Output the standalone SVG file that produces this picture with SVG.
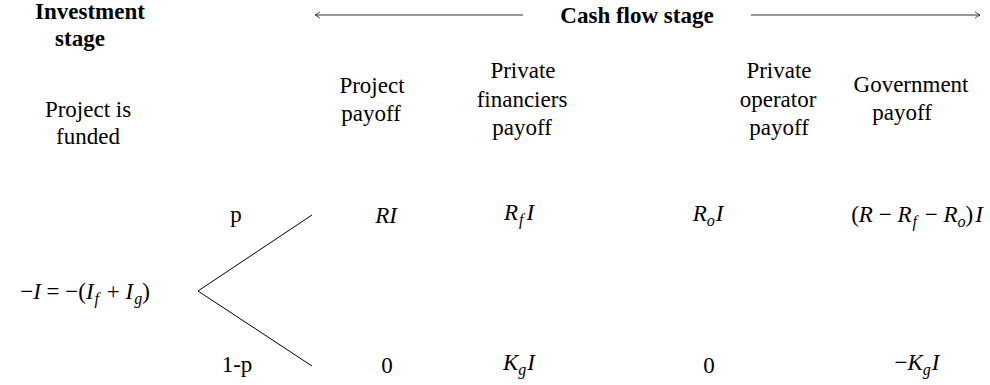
<svg xmlns="http://www.w3.org/2000/svg" width="990" height="385" viewBox="0 0 990 385">
<style>
text{font-family:"Liberation Serif","Times New Roman","DejaVu Serif",serif;font-size:23px;fill:#000;text-anchor:middle}
.b{font-weight:bold}
.i{font-style:italic}
.s{font-style:italic;font-size:16px}
.ln{stroke:#000;stroke-width:1;fill:none}
.ar{stroke:#333;stroke-width:1.1;fill:none}
</style>
<defs>
<marker id="ah" viewBox="-6 -4 7 8" markerWidth="7" markerHeight="8" refX="0" refY="0" orient="auto-start-reverse" markerUnits="userSpaceOnUse">
<path d="M-5,-3.2 Q-1.5,-0.6 0,0 Q-1.5,0.6 -5,3.2" stroke="#333" stroke-width="0.9" fill="none"/>
</marker>
</defs>
<rect width="990" height="385" fill="#fff"/>
<g id="connectors">
<line class="ar" x1="523" y1="15" x2="315" y2="15" marker-end="url(#ah)"/>
<line class="ar" x1="751" y1="15" x2="980" y2="15" marker-end="url(#ah)"/>
<polyline class="ln" points="312,215 198,291 312,366"/>
</g>
<g id="investment-stage"><text class="b" x="90" y="19">Investment</text><text class="b" x="80" y="46">stage</text></g>
<g id="cash-flow-stage"><text class="b" x="637" y="23">Cash flow stage</text></g>
<g id="project-funded"><text x="88" y="117">Project is</text><text x="88" y="144">funded</text></g>
<g id="h-project"><text x="372" y="93">Project</text><text x="371" y="121">payoff</text></g>
<g id="h-financiers"><text x="523" y="78">Private</text><text x="522" y="107">financiers</text><text x="522" y="135">payoff</text></g>
<g id="h-operator"><text x="779" y="78">Private</text><text x="778" y="107">operator</text><text x="779" y="135">payoff</text></g>
<g id="h-government"><text x="911" y="92">Government</text><text x="902" y="120">payoff</text></g>
<g id="root"><text x="85" y="299">−<tspan class="i">I</tspan>  =  −(<tspan class="i">I</tspan><tspan class="s" dy="5" dx="1">f</tspan><tspan dy="-5" dx="2"> + </tspan><tspan class="i">I</tspan><tspan class="s" dy="5" dx="1">g</tspan><tspan dy="-5">)</tspan></text></g>
<g id="prob-p"><text x="236" y="222">p</text></g>
<g id="prob-1p"><text x="237" y="372">1-p</text></g>
<g id="p-project"><text class="i" x="386" y="223">RI</text></g>
<g id="p-financiers"><text x="519" y="220"><tspan class="i">R</tspan><tspan class="s" dy="5" dx="1">f</tspan><tspan class="i" dy="-5" dx="3">I</tspan></text></g>
<g id="p-operator"><text x="708" y="221"><tspan class="i">R</tspan><tspan class="s" dy="5">o</tspan><tspan class="i" dy="-5" dx="1">I</tspan></text></g>
<g id="p-government"><text x="917" y="222">(<tspan class="i">R</tspan> − <tspan class="i">R</tspan><tspan class="s" dy="5" dx="1">f</tspan><tspan dy="-5" dx="2"> − </tspan><tspan class="i">R</tspan><tspan class="s" dy="5">o</tspan><tspan dy="-5">)</tspan><tspan class="i" dx="2">I</tspan></text></g>
<g id="q-project"><text x="387" y="373">0</text></g>
<g id="q-financiers"><text x="519" y="370"><tspan class="i">K</tspan><tspan class="s" dy="5">g</tspan><tspan class="i" dy="-5" dx="1">I</tspan></text></g>
<g id="q-operator"><text x="709" y="373">0</text></g>
<g id="q-government"><text x="917" y="370">−<tspan class="i">K</tspan><tspan class="s" dy="5">g</tspan><tspan class="i" dy="-5" dx="1">I</tspan></text></g>
</svg>
